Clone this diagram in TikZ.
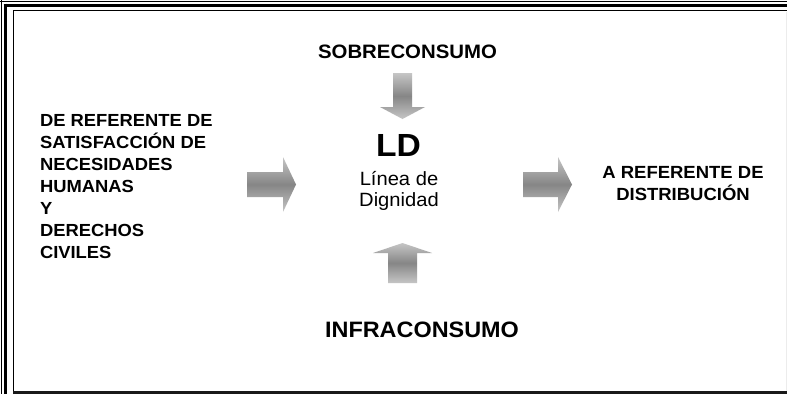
\documentclass[tikz,border=0pt]{standalone}
\usepackage{fontspec}
\setmainfont{Liberation Sans}
\begin{document}
\begin{tikzpicture}[x=1pt,y=-1pt,
  lbl/.style={inner sep=0pt,outer sep=0pt,xscale=1.05,font=\bfseries},
  garrow/.style={shading=axis,top color=gray!45,bottom color=gray!45,middle color=gray!95,draw=none},
  frm/.style={draw=black,line cap=butt}]
\useasboundingbox (0,0) rectangle (787,394);
\fill[white] (0,0) rectangle (787,394);
% frame
\draw[frm,line width=1.2pt] (0,1.5) -- (787,1.5);
\draw[frm,line width=3.6pt] (3.5,5.3) -- (787,5.3);
\draw[frm,line width=1.2pt] (1.5,0) -- (1.5,394);
\draw[frm,line width=3.6pt] (5.3,3.5) -- (5.3,394);
\draw[frm,line width=1.6pt] (13.5,394) -- (13.5,10.5) -- (787,10.5);
\draw[draw=gray!15,line width=1pt] (786.3,12) -- (786.3,391);
\fill[black!90] (12.7,390.8) rectangle (787,394);
% texts
\node[lbl,anchor=center,font=\bfseries\fontsize{19.4}{23}\selectfont] (sobre) at (407.5,52) {SOBRECONSUMO};
\node[lbl,anchor=center,font=\bfseries\fontsize{22.3}{26}\selectfont] (infra) at (422,330) {INFRACONSUMO};
\node[lbl,anchor=base,font=\bfseries\fontsize{32}{36}\selectfont] (ld) at (398.5,156.5) {LD};
\node[lbl,anchor=base,font=\fontsize{19.2}{22}\selectfont] (linea) at (399,185) {Línea de};
\node[lbl,anchor=base,font=\fontsize{19.2}{22}\selectfont] (dign) at (399,206.5) {Dignidad};
\node[lbl,anchor=north west,align=left,font=\bfseries\fontsize{17.5}{22}\selectfont] (left) at (40,114.2) {DE REFERENTE DE\\SATISFACCIÓN DE\\NECESIDADES\\HUMANAS\\Y\\DERECHOS\\CIVILES};
\node[lbl,anchor=north,align=center,font=\bfseries\fontsize{17.6}{22}\selectfont] (right) at (683,166.4) {A REFERENTE DE\\DISTRIBUCIÓN};
% arrows
\path[garrow] (247,172) -- (283,172) -- (283,157) -- (296,184.5) -- (283,212) -- (283,197) -- (247,197) -- cycle;
\path[garrow] (523,172) -- (558,172) -- (558,157) -- (572,184.5) -- (558,212) -- (558,197) -- (523,197) -- cycle;
\path[garrow] (393,73) -- (412,73) -- (412,107) -- (425,107) -- (402.5,119) -- (380,107) -- (393,107) -- cycle;
\path[garrow] (388,283) -- (388,253) -- (373,253) -- (402.5,243) -- (432,253) -- (417,253) -- (417,283) -- cycle;
\end{tikzpicture}
\end{document}
